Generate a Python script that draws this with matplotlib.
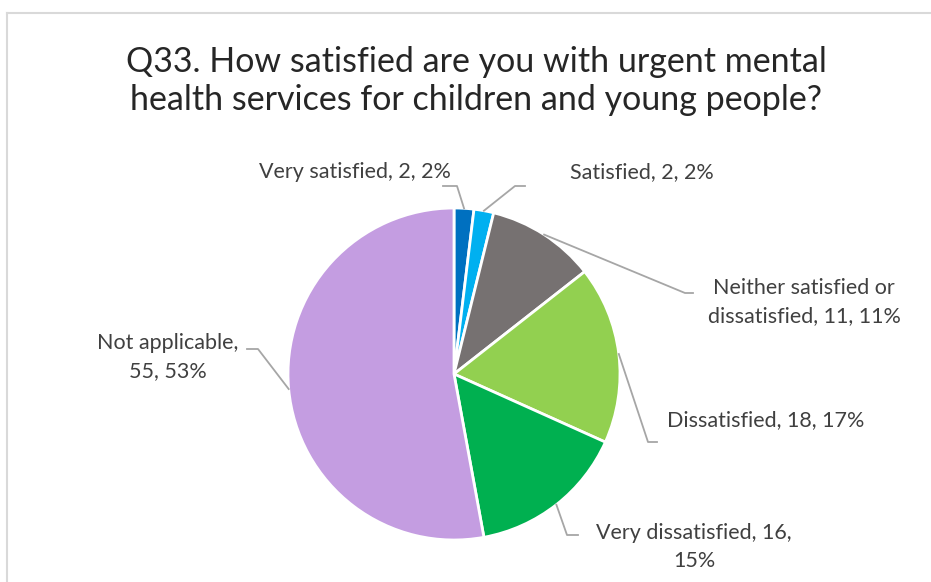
import numpy as np
import matplotlib
matplotlib.use("Agg")
import matplotlib.pyplot as plt
from matplotlib.lines import Line2D

plt.rcParams['font.family'] = ['Lato', 'DejaVu Sans']

categories = ["Very satisfied", "Satisfied", "Neither satisfied or\ndissatisfied",
              "Dissatisfied", "Very dissatisfied", "Not applicable"]
counts = [2, 2, 11, 18, 16, 55]
percents = [2, 2, 11, 17, 15, 53]
colors = ["#0070C0", "#00B0F0", "#767171", "#92D050", "#00B050", "#C49DE1"]

W, H = 931, 582
fig = plt.figure(figsize=(W / 100, H / 100), dpi=100)
ax = fig.add_axes([0, 0, 1, 1])
ax.set_xlim(0, W)
ax.set_ylim(0, H)
ax.set_aspect('equal')
ax.axis('off')

def py(y):
    # pixel row -> data y
    return H - y

# chart frame (only top and left edges fall inside the canvas)
ax.add_line(Line2D([7, W], [py(13), py(13)], color="#D9D9D9", lw=1.5))
ax.add_line(Line2D([7, 7], [py(13), 0], color="#D9D9D9", lw=1.5))

cx, cy, r = 454, py(374), 166
wedges, _ = ax.pie(counts, colors=colors, startangle=90, counterclock=False,
                   center=(cx, cy), radius=r,
                   wedgeprops=dict(edgecolor="white", linewidth=2))
ax.set_xlim(0, W)
ax.set_ylim(0, H)

ax.text(476, py(81), "Q33. How satisfied are you with urgent mental\nhealth services for children and young people?",
        ha="center", va="center", fontsize=24.5, color="#262626", linespacing=1.25)

labels = []
for cat, n, p in zip(categories, counts, percents):
    labels.append(f"{cat}, {n}, {p}%")
labels[4] = "Very dissatisfied, 16,\n15%"
labels[5] = "Not applicable,\n55, 53%"

# text position, leader elbow points
layout = [
    dict(xy=(355, 172), pts=[(443, 186), (457, 186)]),
    dict(xy=(642, 172), pts=[(525, 186), (515, 186)]),
    dict(xy=(804, 302), pts=[(693, 293), (685, 293)]),
    dict(xy=(766, 420), pts=[(657, 442), (648, 442)]),
    dict(xy=(694, 547), pts=[(578, 535), (567, 535)]),
    dict(xy=(168, 357), pts=[(247, 349), (258, 349)]),
]

for w, lab, lay in zip(wedges, labels, layout):
    mid = np.deg2rad((w.theta1 + w.theta2) / 2)
    ex, ey = cx + r * np.cos(mid), cy + r * np.sin(mid)
    xs = [p[0] for p in lay["pts"]] + [ex]
    ys = [py(p[1]) for p in lay["pts"]] + [ey]
    ax.add_line(Line2D(xs, ys, color="#A6A6A6", lw=1.3))
    ax.text(lay["xy"][0], py(lay["xy"][1]), lab, ha="center", va="center",
            fontsize=15.5, color="#404040", linespacing=1.5)

fig.savefig("out.png", dpi=100)
